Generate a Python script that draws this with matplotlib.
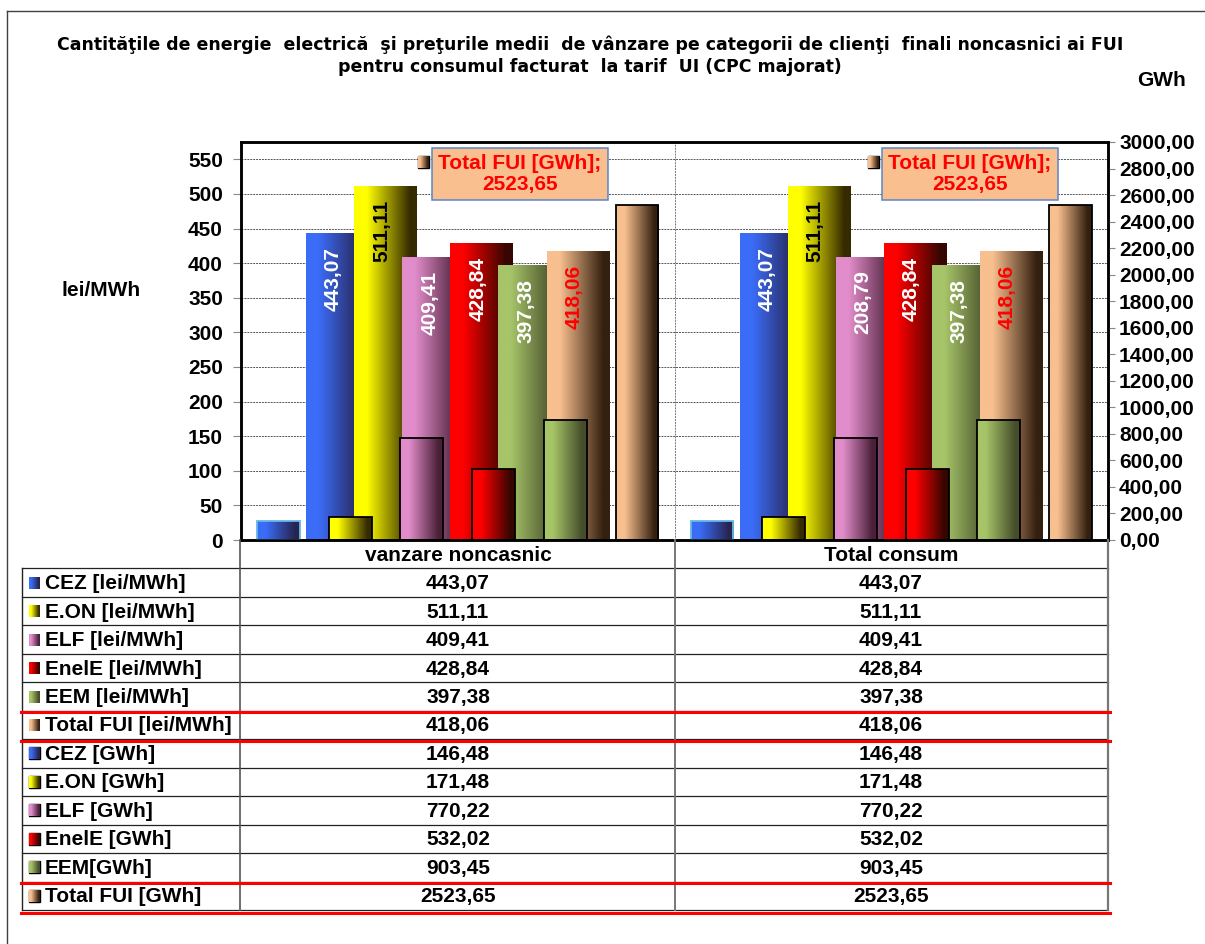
import numpy as np
import matplotlib
matplotlib.use("Agg")
import matplotlib.pyplot as plt
from matplotlib.colors import to_rgb
from matplotlib.patches import Rectangle
from matplotlib.transforms import offset_copy

plt.rcParams['font.family'] = ['Liberation Sans', 'DejaVu Sans']
plt.rcParams['font.weight'] = 'bold'

# data
categories = ['vanzare noncasnic', 'Total consum']
suppliers = ['CEZ', 'E.ON', 'ELF', 'EnelE', 'EEM', 'Total FUI']
price_noncasnic = [443.07, 511.11, 409.41, 428.84, 397.38, 418.06]
price_total = [443.07, 511.11, 409.41, 428.84, 397.38, 418.06]
energy_noncasnic = [146.48, 171.48, 770.22, 532.02, 903.45, 2523.65]
energy_total = [146.48, 171.48, 770.22, 532.02, 903.45, 2523.65]
# labels printed on the price bars (the second group shows 208,79 for ELF)
label_noncasnic = [443.07, 511.11, 409.41, 428.84, 397.38, 418.06]
label_total = [443.07, 511.11, 208.79, 428.84, 397.38, 418.06]
row_names = ['CEZ [lei/MWh]', 'E.ON [lei/MWh]', 'ELF [lei/MWh]', 'EnelE [lei/MWh]',
             'EEM [lei/MWh]', 'Total FUI [lei/MWh]', 'CEZ [GWh]', 'E.ON [GWh]',
             'ELF [GWh]', 'EnelE [GWh]', 'EEM[GWh]', 'Total FUI [GWh]']
left_ticks = list(range(0, 551, 50))
right_ticks = list(range(0, 3001, 200))

# styling
colors = [('#3B6CF7', '#27234F'), ('#FFFF00', '#352A00'), ('#E28DCB', '#4A2038'),
          ('#FF0000', '#360600'), ('#A6C468', '#454D2A'), ('#F8BF8F', '#34200F')]
label_colors = ['white', 'black', 'white', 'white', 'white', 'red']
gwh_edges = ['#66B8E8', 'black', 'black', 'black', 'black', 'black']
FS = 15

W, H = 1205, 944


def fmt(v):
    return f"{v:.2f}".replace('.', ',')


def grad_img(c1, c2, n=64):
    t = np.linspace(0, 1, n)
    m = np.clip((t - 0.2) / 0.7, 0, 1)[:, None]
    a, b = np.array(to_rgb(c1)), np.array(to_rgb(c2))
    return (a * (1 - m) + b * m)[None, :, :]


def shade(ax, patch, c1, c2, z):
    x, y = patch.get_x(), patch.get_y()
    w, h = patch.get_width(), patch.get_height()
    im = ax.imshow(grad_img(c1, c2), extent=[x, x + w, y, y + h], aspect='auto',
                   origin='lower', zorder=z, interpolation='bilinear')
    im.set_clip_path(patch)


fig = plt.figure(figsize=(W / 100, H / 100), dpi=100)
ax = fig.add_axes([241 / W, 1 - 540 / H, (1108 - 241) / W, (540 - 142) / H])
ax2 = ax.twinx()

x = np.arange(len(categories))
lei_w, lei_step = 0.145, 0.111
gwh_w, gwh_step = 0.099, 0.1654
label_off = offset_copy(ax.transData, fig=fig, x=-4, y=-14, units='dots')

for i in range(len(suppliers)):
    z = 2 + i * 0.1
    bars = ax.bar(x + (i - 2.5) * lei_step, [price_noncasnic[i], price_total[i]], lei_w,
                  color='none', linewidth=0, zorder=z)
    for b in bars:
        shade(ax, b, colors[i][0], colors[i][1], z)
    bars2 = ax2.bar(x + (i - 2.5) * gwh_step, [energy_noncasnic[i], energy_total[i]], gwh_w,
                    facecolor='none', edgecolor=gwh_edges[i], linewidth=1.3, zorder=z + 0.05)
    for b in bars2:
        shade(ax2, b, colors[i][0], colors[i][1], z)

for i in range(len(suppliers)):
    for j, labs in enumerate([label_noncasnic, label_total]):
        ax2.text(x[j] + (i - 2.5) * lei_step, [price_noncasnic, price_total][j][i], fmt(labs[i]),
                 transform=label_off, rotation=90, ha='center', va='top',
                 color=label_colors[i], fontsize=FS, zorder=10)

ax.set_xlim(-0.5, 1.5)
ax.set_ylim(0, 575)
ax2.set_ylim(0, 3000)
ax.set_xticks([])
ax.set_yticks(left_ticks)
ax.set_yticklabels([str(v) for v in left_ticks])
ax2.set_yticks(right_ticks)
ax2.set_yticklabels([fmt(v) for v in right_ticks])
ax.yaxis.grid(True, color='#555555', linestyle=(0, (2, 1)), linewidth=0.7)
ax.set_axisbelow(True)
ax.axvline(0.5, color='#777777', linestyle=(0, (2, 1)), linewidth=0.7, zorder=1)
ax.tick_params(axis='y', direction='out', length=6, color='#888888', labelsize=FS, pad=7)
ax2.tick_params(axis='y', direction='out', length=5, color='#888888', labelsize=FS, pad=3)
for a in (ax, ax2):
    for s in a.spines.values():
        s.set_color('black')
        s.set_linewidth(1.8)

# overlay in pixel coordinates for title, table and callouts
ov = fig.add_axes([0, 0, 1, 1], zorder=5)
ov.set_xlim(0, W)
ov.set_ylim(H, 0)
ov.axis('off')


def key(px, py, c1, c2, edge):
    r = Rectangle((px, py), 11, 12, facecolor='none',
                  edgecolor=edge if edge else 'none', linewidth=1)
    ov.add_patch(r)
    ov.imshow(grad_img(c1, c2), extent=[px, px + 11, py + 12, py], aspect='auto',
              interpolation='bilinear', zorder=1).set_clip_path(r)


ov.plot([7, W], [11, 11], color='#404040', lw=1)
ov.plot([7, 7], [11, H], color='#404040', lw=1)

title_font = ['DejaVu Sans']
ov.text(590, 45, 'Cantităţile de energie  electrică  şi preţurile medii  de vânzare pe categorii de clienţi  finali noncasnici ai FUI',
        ha='center', va='center', fontsize=12.5, family=title_font)
ov.text(590, 67, 'pentru consumul facturat  la tarif  UI (CPC majorat)',
        ha='center', va='center', fontsize=12.5, family=title_font)
ov.text(1162, 80, 'GWh', ha='center', va='center', fontsize=FS)
ov.text(101, 291, 'lei/MWh', ha='center', va='center', fontsize=FS)

# callouts for Total FUI [GWh]
for cx in (520, 970):
    ov.text(cx, 174, f"{suppliers[5]} [GWh];\n{fmt(energy_noncasnic[5])}", ha='center', va='center',
            color='red', fontsize=FS, linespacing=1.15,
            bbox=dict(boxstyle='square,pad=0.3', fc='#F9BF8F', ec='#5B86C5', lw=1.1))
    key(cx - 102, 156, colors[5][0], colors[5][1], 'black')

# data table
y0, rh = 540, 28.46
col_c = [458, 891]
for k in range(1, 14):
    ov.plot([22, 1108], [y0 + k * rh] * 2, color='#222222', lw=0.9)
ov.plot([22, 22], [y0 + rh, y0 + 13 * rh], color='#222222', lw=1)
ov.plot([240, 240], [y0, y0 + 13 * rh], color='#555555', lw=1.2)
ov.plot([675, 675], [y0, y0 + 13 * rh], color='#777777', lw=1.4)
ov.plot([1108, 1108], [y0, y0 + 13 * rh], color='#777777', lw=1.6)
for j, c in enumerate(categories):
    ov.text(col_c[j], y0 + rh / 2 + 1, c, ha='center', va='center', fontsize=FS)

table_vals = [price_noncasnic, price_total, energy_noncasnic, energy_total]
for r, name in enumerate(row_names):
    yc = y0 + (r + 1.5) * rh
    s = r % 6
    key(29, yc - 6, colors[s][0], colors[s][1], 'black' if r >= 6 else None)
    ov.text(45, yc + 1, name, ha='left', va='center', fontsize=FS)
    for j in range(2):
        src = table_vals[j] if r < 6 else table_vals[2 + j]
        ov.text(col_c[j], yc + 1, fmt(src[s]), ha='center', va='center', fontsize=FS)

for yr in (712, 741, 883, 912.5):
    ov.plot([21, 1110], [yr, yr], color='red', lw=2.2)

fig.savefig('out.png', dpi=100)
